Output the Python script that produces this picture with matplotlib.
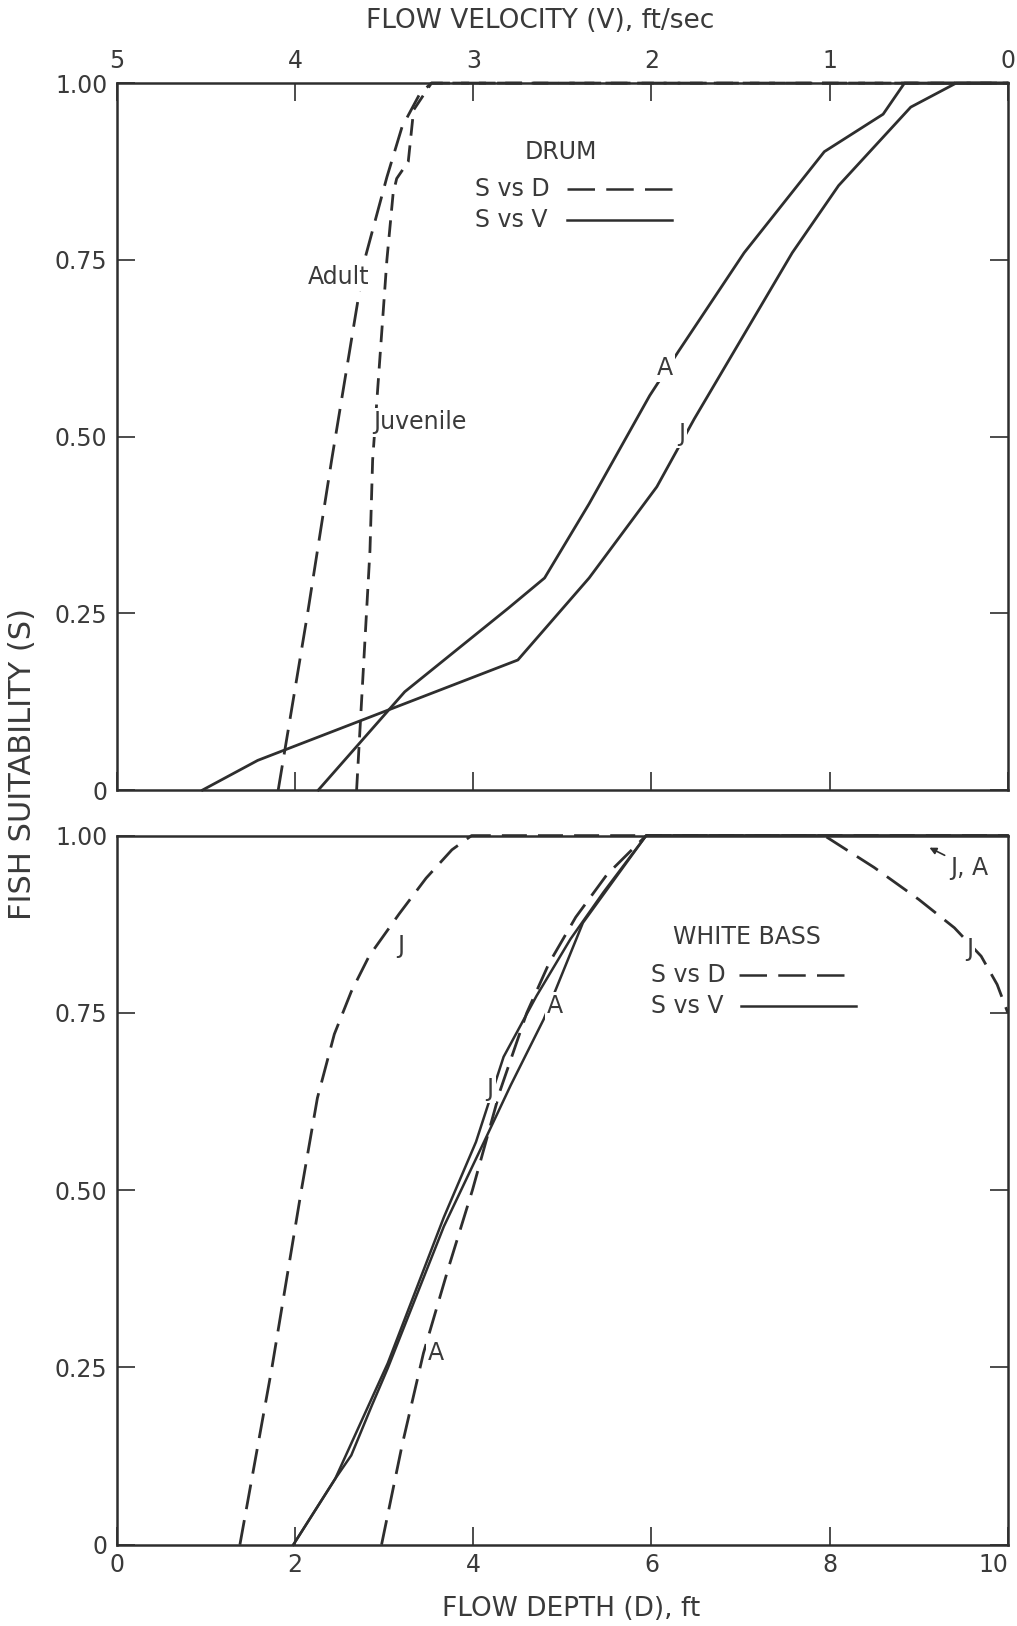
import matplotlib
matplotlib.use("Agg")
import matplotlib.pyplot as plt

plt.rcParams['font.family'] = ['DejaVu Sans']

INK = '#2e2e2e'
TXT = '#3a3a3a'

# ---- DRUM ----
# suitability vs depth (ft)
drum_adult_d = [1.81, 2.14, 2.41, 2.78, 3.03, 3.20, 3.40, 3.53, 10.0]
drum_adult_d_s = [0.0, 0.25, 0.467, 0.75, 0.867, 0.938, 0.985, 1.0, 1.0]
drum_juv_d = [2.69, 2.84, 2.87, 3.03, 3.10, 3.14, 3.27, 3.33, 3.53, 10.0]
drum_juv_d_s = [0.0, 0.339, 0.467, 0.75, 0.844, 0.865, 0.889, 0.962, 1.0, 1.0]
# suitability vs velocity (ft/sec)
drum_adult_v = [3.87, 3.385, 2.805, 2.60, 2.35, 2.01, 1.85, 1.48, 1.03, 0.70, 0.58, 0.0]
drum_adult_v_s = [0.0, 0.139, 0.257, 0.30, 0.405, 0.558, 0.62, 0.76, 0.903, 0.956, 1.0, 1.0]
drum_juv_v = [4.52, 4.21, 2.75, 2.35, 1.97, 1.76, 1.21, 0.95, 0.545, 0.29, 0.0]
drum_juv_v_s = [0.0, 0.042, 0.184, 0.30, 0.429, 0.525, 0.76, 0.855, 0.966, 1.0, 1.0]

# ---- WHITE BASS ----
wb_juv_d = [1.38, 1.74, 2.07, 2.25, 2.44, 2.63, 2.83, 3.17, 3.47, 3.76, 3.98,
            7.94, 8.5, 9.0, 9.4, 9.7, 9.88, 10.0]
wb_juv_d_s = [0.0, 0.25, 0.50, 0.63, 0.72, 0.78, 0.83, 0.89, 0.94, 0.98, 1.0,
              1.0, 0.955, 0.91, 0.87, 0.83, 0.79, 0.75]
wb_adult_d = [2.97, 3.20, 3.44, 3.72, 3.99, 4.30, 4.60, 4.85, 5.15, 5.50, 5.94, 10.0]
wb_adult_d_s = [0.0, 0.14, 0.27, 0.39, 0.50, 0.64, 0.75, 0.82, 0.885, 0.945, 1.0, 1.0]
wb_juv_v = [4.01, 3.775, 3.48, 3.165, 2.985, 2.83, 2.645, 2.455, 2.27, 2.03, 0.0]
wb_juv_v_s = [0.0, 0.093, 0.256, 0.462, 0.568, 0.688, 0.774, 0.854, 0.92, 1.0, 1.0]
wb_adult_v = [4.01, 3.775, 3.685, 3.57, 3.48, 3.165, 2.94, 2.79, 2.605, 2.385, 2.03, 0.0]
wb_adult_v_s = [0.0, 0.093, 0.126, 0.196, 0.249, 0.449, 0.568, 0.648, 0.741, 0.877, 1.0, 1.0]

s_ticks = [0, 0.25, 0.5, 0.75, 1.0]
s_labels = ['0', '0.25', '0.50', '0.75', '1.00']
d_ticks = [0, 2, 4, 6, 8, 10]
d_labels = ['0', '2', '4', '6', '8', '10']
v_ticks = [5, 4, 3, 2, 1, 0]
v_labels = ['5', '4', '3', '2', '1', '0']

fig = plt.figure(figsize=(10.17, 16.26), dpi=100)
ax1 = fig.add_axes([0.115, 0.5141, 0.876, 0.4348])
ax2 = fig.add_axes([0.115, 0.050, 0.876, 0.4361])

for ax in (ax1, ax2):
    ax.set_xlim(0, 10)
    ax.set_ylim(0, 1)
    ax.set_xticks(d_ticks)
    ax.set_xticklabels(d_labels)
    ax.set_yticks(s_ticks)
    ax.set_yticklabels(s_labels)
    ax.tick_params(direction='in', length=13, width=1.2, colors=INK,
                   labelcolor=TXT, labelsize=17, right=True, pad=7)
    for sp in ax.spines.values():
        sp.set_linewidth(1.8)
        sp.set_color(INK)

ax1.tick_params(axis='x', labelbottom=False, top=False)
ax2.tick_params(axis='x', top=True, pad=6)
ax2.get_xticklabels()[-1].set_horizontalalignment('right')

# velocity scale (reversed) on both panels
axv1 = ax1.twiny()
axv1.set_xlim(5, 0)
axv1.set_xticks(v_ticks)
axv1.set_xticklabels(v_labels)
axv1.tick_params(direction='in', length=13, width=1.2, colors=INK,
                 labelcolor=TXT, labelsize=17, pad=7)
axv2 = ax2.twiny()
axv2.set_xlim(5, 0)
axv2.set_xticks([])
for a in (axv1, axv2):
    for sp in a.spines.values():
        sp.set_visible(False)

lw = 2.0
dash_long = (0, (9, 4))
dash_short = (0, (6, 3.5))

# DRUM curves
ax1.plot(drum_adult_d, drum_adult_d_s, color=INK, lw=lw, ls=dash_long, clip_on=False)
ax1.plot(drum_juv_d, drum_juv_d_s, color=INK, lw=lw, ls=dash_short, clip_on=False)
ax1.plot(drum_adult_v, drum_adult_v_s, color=INK, lw=lw, clip_on=False, transform=axv1.transData)
ax1.plot(drum_juv_v, drum_juv_v_s, color=INK, lw=lw, clip_on=False, transform=axv1.transData)

# WHITE BASS curves
ax2.plot(wb_juv_d, wb_juv_d_s, color=INK, lw=lw, ls=dash_long, clip_on=False)
ax2.plot(wb_adult_d, wb_adult_d_s, color=INK, lw=lw, ls=dash_long, clip_on=False)
ax2.plot(wb_juv_v, wb_juv_v_s, color=INK, lw=1.8, clip_on=False, transform=axv2.transData)
ax2.plot(wb_adult_v, wb_adult_v_s, color=INK, lw=1.8, clip_on=False, transform=axv2.transData)

gap = dict(facecolor='white', edgecolor='none', pad=1.5)
lab = dict(color=TXT, fontsize=17, ha='center', va='center', zorder=5)
key = dict(color=TXT, fontsize=17, ha='left', va='center')

# curve labels, top panel
ax1.text(2.49, 0.726, 'Adult', bbox=gap, **lab)
ax1.text(3.40, 0.52, 'Juvenile', bbox=gap, **lab)
ax1.text(6.15, 0.597, 'A', bbox=gap, **lab)
ax1.text(6.34, 0.504, 'J', bbox=gap, **lab)

# key, top panel
ax1.text(4.98, 0.903, 'DRUM', **lab)
ax1.text(4.02, 0.850, 'S vs D', **key)
ax1.text(4.02, 0.806, 'S vs V', **key)
ax1.plot([5.05, 6.26], [0.850, 0.850], color=INK, lw=1.8, ls=(0, (11, 4.5)))
ax1.plot([5.05, 6.23], [0.806, 0.806], color=INK, lw=1.8)

# curve labels, bottom panel
ax2.text(3.19, 0.845, 'J', bbox=gap, **lab)
ax2.text(4.19, 0.643, 'J', bbox=gap, **lab)
ax2.text(4.92, 0.760, 'A', bbox=gap, **lab)
ax2.text(3.58, 0.270, 'A', bbox=gap, **lab)
ax2.text(9.57, 0.840, 'J', bbox=gap, **lab)
ax2.annotate('J, A', xy=(9.12, 0.983), xytext=(9.35, 0.955),
             color=TXT, fontsize=17, ha='left', va='center', zorder=5,
             arrowprops=dict(arrowstyle='-|>', color=INK, lw=1.2,
                             mutation_scale=10, shrinkA=2, shrinkB=0))

# key, bottom panel
ax2.text(7.07, 0.857, 'WHITE BASS', **lab)
ax2.text(6.0, 0.804, 'S vs D', **key)
ax2.text(6.0, 0.760, 'S vs V', **key)
ax2.plot([6.98, 8.26], [0.804, 0.804], color=INK, lw=1.8, ls=(0, (11, 4.5)))
ax2.plot([7.01, 8.29], [0.760, 0.760], color=INK, lw=1.8)

# axis titles
fig.text(0.531, 0.987, 'FLOW VELOCITY (V), ft/sec', color=TXT, fontsize=19,
         ha='center', va='center')
fig.text(0.562, 0.0105, 'FLOW DEPTH (D), ft', color=TXT, fontsize=19,
         ha='center', va='center')
fig.text(0.022, 0.530, 'FISH SUITABILITY (S)', color=TXT, fontsize=22,
         rotation=90, ha='center', va='center')

fig.savefig('out.png', dpi=100, facecolor='white')
